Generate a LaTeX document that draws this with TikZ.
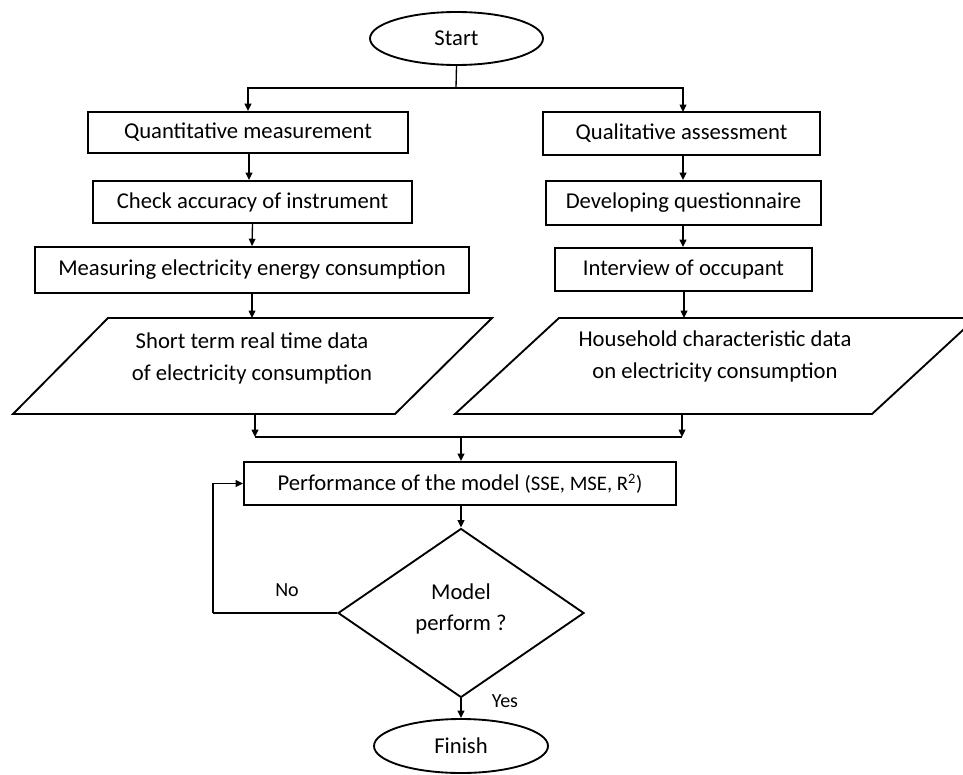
\documentclass[tikz,border=0pt]{standalone}
\usepackage{fontspec}
\setmainfont{Carlito}
\usetikzlibrary{arrows.meta,shapes.geometric}
\begin{document}
\begin{tikzpicture}[x=0.75pt,y=-0.75pt,
  every node/.style={font=\fontsize{17}{24}\selectfont, inner sep=0pt},
  sz/.style 2 args={minimum width={#1*0.75pt},minimum height={#2*0.75pt}},
  proc/.style={draw, line width=1.4pt, rectangle, align=center},
  term/.style={draw, line width=1.4pt, ellipse},
  decide/.style={draw, line width=1.4pt, diamond, align=center},
  dataio/.style={draw, line width=1.4pt, line join=miter},
  link/.style={line width=1pt},
  arr/.style={link, -{Triangle[length=5.5pt,width=5pt]}},
  lbl/.style={font=\fontsize{15}{18}\selectfont}]
\useasboundingbox (0,0) rectangle (963,774);
\clip (0,0) rectangle (963,774);

% terminals
\node[term, sz={173}{53}] (start) at (456.5,38.5) {Start};
\node[term, sz={174}{54}] (fin) at (461,746) {Finish};

% quantitative branch
\node[proc, sz={320}{41}] (qn) at (248,132.5) {Quantitative measurement};
\node[proc, sz={319}{42}] (chk) at (252.5,202) {Check accuracy of instrument};
\node[proc, sz={434}{46}] (meas) at (252,270) {Measuring electricity energy consumption};

% qualitative branch
\node[proc, sz={277}{43}] (ql) at (681.5,133.5) {Qualitative assessment};
\node[proc, sz={275}{44}] (dev) at (683.5,203) {Developing questionnaire};
\node[proc, sz={257}{43}] (intv) at (683.5,269.5) {Interview of occupant};

% data parallelograms
\draw[dataio] (108,318) -- (492,318) -- (395,414) -- (13,414) -- cycle;
\draw[dataio] (559,318) -- (976,318) -- (872,414) -- (455,414) -- cycle;
\node[align=center] (dl) at (252,358) {Short term real time data\\of electricity consumption};
\node[align=center] (dr) at (715,356) {Household characteristic data\\on electricity consumption};
\coordinate (dlt) at (252,318);
\coordinate (dlb) at (255,414);
\coordinate (drt) at (684,318);
\coordinate (drb) at (682,414);

% evaluation
\node[proc, sz={432}{43}] (perf) at (460,483.5)
  {Performance of the model {\fontsize{15.5}{18}\selectfont(SSE, MSE, R\textsuperscript{2})}};
\node[decide, sz={246}{169}] (dia) at (461,613) {};
\node[align=center, font=\fontsize{17}{23}\selectfont] (dtxt) at (461,609) {Model\\perform ?};

% junctions
\coordinate (jtop) at (456,88);
\coordinate (jl) at (255,437);
\coordinate (jr) at (682,437);
\coordinate (jm) at (461,437);
\coordinate (loop) at (213,613);

% connectors
\draw[link] (start.south) -- (jtop);
\draw[arr] (jtop) -| (qn.north);
\draw[arr] (jtop) -| (683,112);
\draw[arr] (qn.south -| 249,0) -- (chk.north -| 249,0);
\draw[arr] (chk.south) -- (meas.north);
\draw[arr] (meas.south) -- (dlt);
\draw[arr] (ql.south -| 683,0) -- (dev.north -| 683,0);
\draw[arr] (dev.south -| 683,0) -- (intv.north -| 683,0);
\draw[arr] (intv.south -| drt) -- (drt);
\draw[arr] (dlb) -- (jl);
\draw[arr] (drb) -- (jr);
\draw[link] (jl) -- (jr);
\draw[arr] (jm) -- (perf.north -| jm);
\draw[arr] (perf.south -| dia.north) -- (dia.north);
\draw[link] (dia.west) -- (loop);
\draw[arr] (loop) |- (perf.west);
\draw[arr] (dia.south) -- (fin.north);

% branch labels
\node[lbl] (no) at (287,590) {No};
\node[lbl] (yes) at (505,701) {Yes};
\end{tikzpicture}
\end{document}
